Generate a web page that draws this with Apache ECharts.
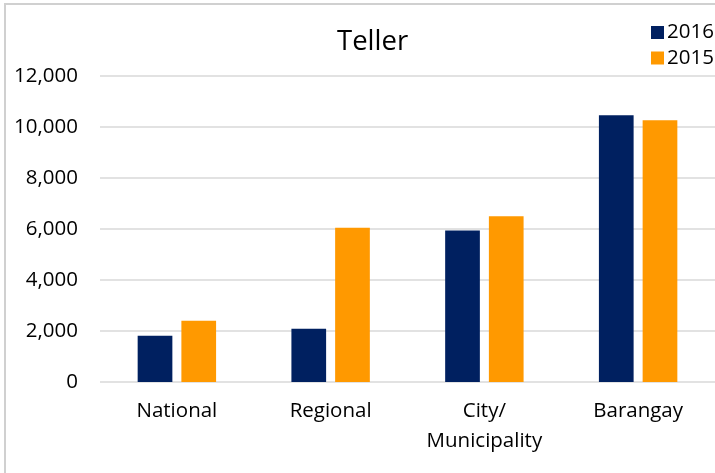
<!DOCTYPE html>
<html>
<head>
<meta charset="utf-8">
<script src="https://cdn.jsdelivr.net/npm/echarts@6/dist/echarts.min.js"></script>
<style>
html,body{margin:0;padding:0;background:#fff;}
#chart{width:715px;height:473px;}
</style>
</head>
<body>
<div id="chart"></div>
<script>
const categories = ['National', 'Regional', 'City/\nMunicipality', 'Barangay'];
const seriesNames = ['2016', '2015'];
const values2016 = [1810, 2090, 5940, 10460];
const values2015 = [2400, 6050, 6500, 10260];
const yTicks = [0, 2000, 4000, 6000, 8000, 10000, 12000];

const FONT = 'Open Sans';
const chart = echarts.init(document.getElementById('chart'), null, {renderer: 'canvas'});
chart.setOption({
  animation: false,
  backgroundColor: '#ffffff',
  graphic: [{
    type: 'rect',
    shape: {x: 5, y: 4, width: 760, height: 520},
    style: {fill: 'none', stroke: '#d0d0d0', lineWidth: 2},
    silent: true, z: -1
  }],
  title: {
    text: 'Teller',
    left: 332, top: 23,
    textStyle: {fontFamily: FONT, fontSize: 27.5, fontWeight: 'normal', color: '#000'}
  },
  legend: {
    orient: 'vertical',
    left: 646, top: 17,
    itemWidth: 13, itemHeight: 13, itemGap: 4.5,
    icon: 'rect',
    data: seriesNames,
    textStyle: {fontFamily: FONT, fontSize: 20.5, color: '#000', padding: [0, 0, 0, -2]}
  },
  grid: {left: 100, right: 0, top: 76, bottom: 91, containLabel: false},
  xAxis: {
    type: 'category',
    data: categories,
    axisLine: {show: false},
    axisTick: {show: false},
    axisLabel: {fontFamily: FONT, fontSize: 20.5, color: '#000', margin: 14, lineHeight: 30, interval: 0}
  },
  yAxis: {
    type: 'value',
    min: yTicks[0], max: yTicks[yTicks.length - 1], interval: yTicks[1] - yTicks[0],
    axisLine: {show: false},
    axisTick: {show: false},
    splitLine: {lineStyle: {color: '#d9d9d9', width: 1.5}},
    axisLabel: {
      fontFamily: FONT, fontSize: 20.5, color: '#000', margin: 22,
      formatter: v => v.toLocaleString('en-US')
    }
  },
  series: [
    {name: seriesNames[0], type: 'bar', data: values2016, barWidth: 34.7, barGap: '26%', itemStyle: {color: '#002060'}},
    {name: seriesNames[1], type: 'bar', data: values2015, barWidth: 34.7, barGap: '26%', itemStyle: {color: '#FF9900'}}
  ]
});
</script>
</body>
</html>
